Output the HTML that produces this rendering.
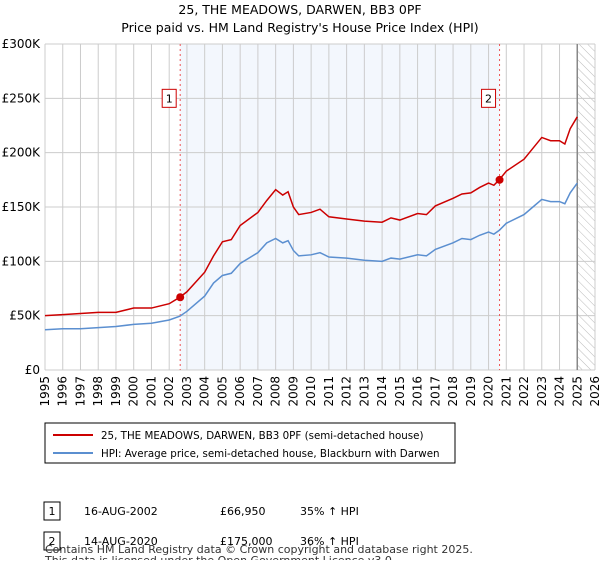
<!DOCTYPE html>
<html><head><meta charset="utf-8"><style>
body{margin:0;background:#fff;font-family:"Liberation Sans","DejaVu Sans",sans-serif;}
svg text{font-family:"DejaVu Sans","Liberation Sans",sans-serif;}
</style></head><body>
<svg id="c" width="600" height="560" xmlns="http://www.w3.org/2000/svg">
<defs><pattern id="hatch" width="6" height="6" patternUnits="userSpaceOnUse" patternTransform="rotate(-45)"><line x1="0" y1="0" x2="0" y2="6" stroke="#bbb" stroke-width="1"/></pattern></defs>
<text x="300" y="14" text-anchor="middle" font-size="12.5">25, THE MEADOWS, DARWEN, BB3 0PF</text>
<text x="300" y="32" text-anchor="middle" font-size="12.5">Price paid vs. HM Land Registry's House Price Index (HPI)</text>
<g id="plot"></g>
<rect x="45" y="423" width="410" height="40" fill="#fff" stroke="#000" stroke-width="1"/>
<line x1="53" y1="435" x2="93" y2="435" stroke="#cc0000" stroke-width="2"/>
<text x="101" y="439" font-size="10.3">25, THE MEADOWS, DARWEN, BB3 0PF (semi-detached house)</text>
<line x1="53" y1="453" x2="93" y2="453" stroke="#5b8fd0" stroke-width="2"/>
<text x="101" y="457" font-size="10.3">HPI: Average price, semi-detached house, Blackburn with Darwen</text>
<rect x="44" y="502" width="16" height="18" fill="#fff" stroke="#000"/>
<text x="52" y="515" text-anchor="middle" font-size="11">1</text>
<text x="84" y="515" font-size="11">16-AUG-2002</text>
<text x="220" y="515" font-size="11">£66,950</text>
<text x="300" y="515" font-size="11">35% ↑ HPI</text>
<rect x="44" y="532" width="16" height="18" fill="#fff" stroke="#000"/>
<text x="52" y="545" text-anchor="middle" font-size="11">2</text>
<text x="84" y="545" font-size="11">14-AUG-2020</text>
<text x="220" y="545" font-size="11">£175,000</text>
<text x="300" y="545" font-size="11">36% ↑ HPI</text>
<text x="45" y="553" font-size="11" fill="#333">Contains HM Land Registry data © Crown copyright and database right 2025.</text>
<text x="45" y="564" font-size="11" fill="#333">This data is licensed under the Open Government Licence v3.0.</text>
</svg>
<script>
const hpiYears=[1995,1996,1997,1998,1999,2000,2001,2002,2002.6,2003,2004,2004.5,2005,2005.5,2006,2007,2007.5,2008,2008.4,2008.7,2009,2009.3,2010,2010.5,2011,2012,2013,2014,2014.5,2015,2016,2016.5,2017,2018,2018.5,2019,2019.5,2020,2020.3,2020.6,2021,2022,2022.5,2023,2023.5,2024,2024.3,2024.6,2025];
const hpiValues=[37,38,38,39,40,42,43,46,49.5,54,68,80,87,89,98,108,117,121,117,119,110,105,106,108,104,103,101,100,103,102,106,105,111,117,121,120,124,127,125,128.5,135,143,150,157,155,155,153,163,172];
const priceValues=[50,51,52,53,53,57,57,61,67,72,90,105,118,120,133,145,156,166,161,164,150,143,145,148,141,139,137,136,140,138,144,143,151,158,162,163,168,172,170,175,183,194,204,214,211,211,208,222,233];
const saleYears=[2002.62,2020.62];
const saleValues=[66.95,175];
const yTicks=[0,50,100,150,200,250,300];
const yTickLabels=["£0","£50K","£100K","£150K","£200K","£250K","£300K"];
const xTicks=[1995,1996,1997,1998,1999,2000,2001,2002,2003,2004,2005,2006,2007,2008,2009,2010,2011,2012,2013,2014,2015,2016,2017,2018,2019,2020,2021,2022,2023,2024,2025,2026];
const L=45,R=595,T=44,B=370,x0=1995,x1=2026,yMax=300;
const X=v=>L+(v-x0)/(x1-x0)*(R-L);
const Y=v=>B-v/yMax*(B-T);
const NS="http://www.w3.org/2000/svg";
const g=document.getElementById('plot');
function mk(t,a){const e=document.createElementNS(NS,t);for(const k in a)e.setAttribute(k,a[k]);g.appendChild(e);return e;}
let e;
e=mk('rect',{x:X(saleYears[0]),y:T,width:X(saleYears[1])-X(saleYears[0]),height:B-T,fill:'#eef3fc',opacity:0.7});


e=mk('rect',{x:X(2025),y:T,width:R-X(2025),height:B-T,fill:'url(#hatch)'});


xTicks.forEach(v=>{e=mk('line',{x1:X(v),x2:X(v),y1:T,y2:B,stroke:'#ccc'});


e=mk('text',{x:0,y:0,'font-size':12,'text-anchor':'end',transform:`translate(${X(v)+4},${B+6}) rotate(-90)`});e.textContent=v;

});
yTicks.forEach((v,i)=>{e=mk('line',{x1:L,x2:R,y1:Y(v),y2:Y(v),stroke:'#ccc'});


e=mk('text',{x:L-5,y:Y(v)+4,'font-size':12,'text-anchor':'end'});e.textContent=yTickLabels[i];

});
e=mk('line',{x1:X(2025),x2:X(2025),y1:T,y2:B,stroke:'#888','stroke-width':1.5});


saleYears.forEach((s,i)=>{e=mk('line',{x1:X(s),x2:X(s),y1:T,y2:B,stroke:'#e55','stroke-dasharray':'2,3'});

});
function line(vals,col,name){e=mk('polyline',{points:hpiYears.map((y,i)=>X(y)+','+Y(vals[i])).join(' '),fill:'none',stroke:col,'stroke-width':1.5});

}
line(hpiValues,'#5b8fd0','hpi-line');
line(priceValues,'#cc0000','price-line');
saleYears.forEach((s,i)=>{e=mk('circle',{cx:X(s),cy:Y(saleValues[i]),r:4,fill:'#cc0000'});


const bx=X(s)-9;
e=mk('rect',{x:bx-9,y:Y(250)-9,width:14,height:18,fill:'#fff',stroke:'#cc0000'});


e=mk('text',{x:bx-2,y:Y(250)+4,'font-size':11,'text-anchor':'middle'});e.textContent=String(i+1);

});
</script>
</body></html>
